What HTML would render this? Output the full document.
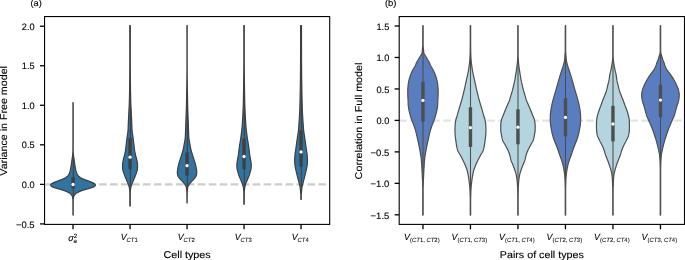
<!DOCTYPE html>
<html><head><meta charset="utf-8"><title>Violin plots</title>
<style>
html,body{margin:0;padding:0;background:#fff;}
body{width:685px;height:260px;overflow:hidden;font-family:"Liberation Sans",sans-serif;}
svg text{fill:#000;stroke:#000;stroke-width:0.12px;}
svg{will-change:transform;text-rendering:geometricPrecision;}
</style></head><body>
<svg width="685" height="260" viewBox="0 0 685 260" style="display:block">
<rect width="685" height="260" fill="#fff"/>
<line x1="44.55" y1="184.45" x2="329.7" y2="184.45" stroke="#cdcdcd" stroke-width="2.3" stroke-dasharray="7.7 3.265" stroke-dashoffset="0.3"/>
<path d="M73.17 102.60 L73.17 110.60 L73.17 118.60 L73.17 126.60 L73.17 134.60 L73.17 142.60 L73.18 150.60 L73.21 151.60 L73.27 152.60 L73.34 153.60 L73.42 154.60 L73.51 155.60 L73.63 156.60 L73.78 157.60 L73.94 158.60 L74.09 159.60 L74.23 160.60 L74.37 161.60 L74.50 162.60 L74.64 163.60 L74.79 164.60 L74.95 165.60 L75.11 166.60 L75.28 167.60 L75.47 168.60 L75.67 169.60 L75.88 170.60 L76.13 171.60 L76.46 172.60 L76.88 173.60 L77.41 174.60 L78.06 175.60 L78.92 176.60 L80.22 177.60 L82.16 178.60 L84.54 179.60 L87.13 180.60 L89.84 181.60 L92.40 182.60 L94.37 183.60 L95.38 184.60 L95.36 185.60 L94.25 186.60 L91.80 187.60 L88.50 188.60 L84.83 189.60 L81.70 190.60 L79.20 191.60 L77.26 192.60 L75.89 193.60 L74.87 194.60 L74.16 195.60 L73.68 196.60 L73.41 197.60 L73.28 198.60 L73.21 199.60 L73.19 202.60 L73.17 210.60 L73.17 215.10 L72.93 215.10 L72.93 210.60 L72.91 202.60 L72.89 199.60 L72.82 198.60 L72.69 197.60 L72.42 196.60 L71.94 195.60 L71.23 194.60 L70.21 193.60 L68.84 192.60 L66.90 191.60 L64.40 190.60 L61.27 189.60 L57.60 188.60 L54.30 187.60 L51.85 186.60 L50.74 185.60 L50.72 184.60 L51.73 183.60 L53.70 182.60 L56.26 181.60 L58.97 180.60 L61.56 179.60 L63.94 178.60 L65.88 177.60 L67.18 176.60 L68.04 175.60 L68.69 174.60 L69.22 173.60 L69.64 172.60 L69.97 171.60 L70.22 170.60 L70.43 169.60 L70.63 168.60 L70.82 167.60 L70.99 166.60 L71.15 165.60 L71.31 164.60 L71.46 163.60 L71.60 162.60 L71.73 161.60 L71.87 160.60 L72.01 159.60 L72.16 158.60 L72.32 157.60 L72.47 156.60 L72.59 155.60 L72.68 154.60 L72.76 153.60 L72.83 152.60 L72.89 151.60 L72.92 150.60 L72.93 142.60 L72.93 134.60 L72.93 126.60 L72.93 118.60 L72.93 110.60 L72.93 102.60Z" fill="#3274a1" stroke="#3f3f3f" stroke-width="1.2" stroke-linejoin="round"/>
<line x1="73.35" y1="156" x2="73.35" y2="198.5" stroke="#3f3f3f" stroke-width="1.07"/>
<line x1="73.05" y1="177.1" x2="73.05" y2="188.5" stroke="#3f3f3f" stroke-width="3.4"/>
<circle cx="73.05" cy="184.5" r="1.65" fill="#fff"/>
<path d="M130.35 25.60 L130.33 31.60 L130.31 39.60 L130.30 47.60 L130.30 55.60 L130.30 63.60 L130.33 69.60 L130.35 73.60 L130.37 76.60 L130.40 79.60 L130.42 82.60 L130.45 85.60 L130.48 87.60 L130.50 89.60 L130.53 91.60 L130.57 93.60 L130.61 95.60 L130.63 96.60 L130.65 97.60 L130.67 98.60 L130.69 99.60 L130.72 100.60 L130.75 101.60 L130.78 102.60 L130.83 103.60 L130.87 104.60 L130.92 105.60 L130.97 106.60 L131.03 107.60 L131.08 108.60 L131.13 109.60 L131.18 110.60 L131.23 111.60 L131.28 112.60 L131.32 113.60 L131.37 114.60 L131.42 115.60 L131.47 116.60 L131.51 117.60 L131.56 118.60 L131.61 119.60 L131.65 120.60 L131.70 121.60 L131.75 122.60 L131.79 123.60 L131.83 124.60 L131.87 125.60 L131.91 126.60 L131.94 127.60 L131.98 128.60 L132.03 129.60 L132.09 130.60 L132.19 131.60 L132.32 132.60 L132.46 133.60 L132.62 134.60 L132.78 135.60 L132.93 136.60 L133.06 137.60 L133.19 138.60 L133.31 139.60 L133.43 140.60 L133.55 141.60 L133.67 142.60 L133.78 143.60 L133.90 144.60 L134.02 145.60 L134.13 146.60 L134.24 147.60 L134.36 148.60 L134.49 149.60 L134.65 150.60 L134.82 151.60 L135.02 152.60 L135.24 153.60 L135.46 154.60 L135.70 155.60 L135.97 156.60 L136.26 157.60 L136.53 158.60 L136.77 159.60 L136.96 160.60 L137.15 161.60 L137.33 162.60 L137.47 163.60 L137.54 164.60 L137.55 167.60 L137.51 168.60 L137.33 169.60 L137.12 170.60 L136.84 171.60 L136.52 172.60 L136.16 173.60 L135.79 174.60 L135.43 175.60 L135.05 176.60 L134.64 177.60 L134.23 178.60 L133.81 179.60 L133.40 180.60 L132.96 181.60 L132.51 182.60 L132.08 183.60 L131.69 184.60 L131.35 185.60 L131.03 186.60 L130.78 187.60 L130.61 188.60 L130.49 189.60 L130.39 190.60 L130.32 191.60 L130.29 192.60 L130.26 194.60 L130.25 202.60 L130.25 206.00 L129.85 206.00 L129.85 202.60 L129.84 194.60 L129.81 192.60 L129.78 191.60 L129.71 190.60 L129.61 189.60 L129.49 188.60 L129.32 187.60 L129.07 186.60 L128.75 185.60 L128.41 184.60 L128.02 183.60 L127.59 182.60 L127.14 181.60 L126.70 180.60 L126.29 179.60 L125.87 178.60 L125.46 177.60 L125.05 176.60 L124.67 175.60 L124.31 174.60 L123.94 173.60 L123.58 172.60 L123.26 171.60 L122.98 170.60 L122.77 169.60 L122.59 168.60 L122.55 167.60 L122.56 164.60 L122.63 163.60 L122.77 162.60 L122.95 161.60 L123.14 160.60 L123.33 159.60 L123.57 158.60 L123.84 157.60 L124.13 156.60 L124.40 155.60 L124.64 154.60 L124.86 153.60 L125.08 152.60 L125.28 151.60 L125.45 150.60 L125.61 149.60 L125.74 148.60 L125.86 147.60 L125.97 146.60 L126.08 145.60 L126.20 144.60 L126.32 143.60 L126.43 142.60 L126.55 141.60 L126.67 140.60 L126.79 139.60 L126.91 138.60 L127.04 137.60 L127.17 136.60 L127.32 135.60 L127.48 134.60 L127.64 133.60 L127.78 132.60 L127.91 131.60 L128.01 130.60 L128.07 129.60 L128.12 128.60 L128.16 127.60 L128.19 126.60 L128.23 125.60 L128.27 124.60 L128.31 123.60 L128.35 122.60 L128.40 121.60 L128.45 120.60 L128.49 119.60 L128.54 118.60 L128.59 117.60 L128.63 116.60 L128.68 115.60 L128.73 114.60 L128.78 113.60 L128.82 112.60 L128.87 111.60 L128.92 110.60 L128.97 109.60 L129.02 108.60 L129.07 107.60 L129.13 106.60 L129.18 105.60 L129.23 104.60 L129.27 103.60 L129.32 102.60 L129.35 101.60 L129.38 100.60 L129.41 99.60 L129.43 98.60 L129.45 97.60 L129.47 96.60 L129.49 95.60 L129.53 93.60 L129.57 91.60 L129.60 89.60 L129.62 87.60 L129.65 85.60 L129.68 82.60 L129.70 79.60 L129.73 76.60 L129.75 73.60 L129.77 69.60 L129.80 63.60 L129.80 55.60 L129.80 47.60 L129.79 39.60 L129.77 31.60 L129.75 25.60Z" fill="#3274a1" stroke="#3f3f3f" stroke-width="1.2" stroke-linejoin="round"/>
<line x1="130.35" y1="84" x2="130.35" y2="187.5" stroke="#3f3f3f" stroke-width="1.07"/>
<line x1="130.05" y1="138" x2="130.05" y2="169.3" stroke="#3f3f3f" stroke-width="3.4"/>
<circle cx="130.05" cy="157.2" r="1.65" fill="#fff"/>
<path d="M187.20 25.60 L187.18 32.60 L187.16 40.60 L187.15 48.60 L187.15 56.60 L187.15 64.60 L187.18 72.60 L187.20 75.60 L187.23 78.60 L187.25 80.60 L187.28 82.60 L187.30 84.60 L187.33 86.60 L187.36 88.60 L187.39 90.60 L187.42 92.60 L187.46 94.60 L187.49 96.60 L187.53 98.60 L187.56 100.60 L187.58 101.60 L187.60 102.60 L187.62 103.60 L187.65 104.60 L187.68 105.60 L187.70 106.60 L187.73 107.60 L187.76 108.60 L187.79 109.60 L187.83 110.60 L187.86 111.60 L187.90 112.60 L187.93 113.60 L187.97 114.60 L188.00 115.60 L188.04 116.60 L188.08 117.60 L188.11 118.60 L188.15 119.60 L188.19 120.60 L188.23 121.60 L188.26 122.60 L188.30 123.60 L188.34 124.60 L188.37 125.60 L188.40 126.60 L188.44 127.60 L188.47 128.60 L188.50 129.60 L188.53 130.60 L188.56 131.60 L188.60 132.60 L188.64 133.60 L188.69 134.60 L188.74 135.60 L188.79 136.60 L188.86 137.60 L188.95 138.60 L189.08 139.60 L189.23 140.60 L189.41 141.60 L189.60 142.60 L189.79 143.60 L189.98 144.60 L190.16 145.60 L190.34 146.60 L190.53 147.60 L190.74 148.60 L190.96 149.60 L191.20 150.60 L191.48 151.60 L191.79 152.60 L192.11 153.60 L192.42 154.60 L192.74 155.60 L193.06 156.60 L193.39 157.60 L193.71 158.60 L194.03 159.60 L194.33 160.60 L194.65 161.60 L194.95 162.60 L195.24 163.60 L195.50 164.60 L195.74 165.60 L195.97 166.60 L196.18 167.60 L196.36 168.60 L196.51 169.60 L196.61 170.60 L196.69 171.60 L196.74 172.60 L196.71 173.60 L196.54 174.60 L196.25 175.60 L195.72 176.60 L195.08 177.60 L194.30 178.60 L193.41 179.60 L192.51 180.60 L191.56 181.60 L190.66 182.60 L189.78 183.60 L189.00 184.60 L188.43 185.60 L187.96 186.60 L187.68 187.60 L187.53 188.60 L187.43 189.60 L187.35 190.60 L187.29 191.60 L187.24 192.60 L187.21 194.60 L187.18 196.60 L187.16 199.60 L187.15 203.00 L186.95 203.00 L186.94 199.60 L186.92 196.60 L186.89 194.60 L186.86 192.60 L186.81 191.60 L186.75 190.60 L186.67 189.60 L186.57 188.60 L186.42 187.60 L186.14 186.60 L185.67 185.60 L185.10 184.60 L184.32 183.60 L183.44 182.60 L182.54 181.60 L181.59 180.60 L180.69 179.60 L179.80 178.60 L179.02 177.60 L178.38 176.60 L177.85 175.60 L177.56 174.60 L177.39 173.60 L177.36 172.60 L177.41 171.60 L177.49 170.60 L177.59 169.60 L177.74 168.60 L177.92 167.60 L178.13 166.60 L178.36 165.60 L178.60 164.60 L178.86 163.60 L179.15 162.60 L179.45 161.60 L179.77 160.60 L180.07 159.60 L180.39 158.60 L180.71 157.60 L181.04 156.60 L181.36 155.60 L181.68 154.60 L181.99 153.60 L182.31 152.60 L182.62 151.60 L182.90 150.60 L183.14 149.60 L183.36 148.60 L183.57 147.60 L183.76 146.60 L183.94 145.60 L184.12 144.60 L184.31 143.60 L184.50 142.60 L184.69 141.60 L184.87 140.60 L185.02 139.60 L185.15 138.60 L185.24 137.60 L185.31 136.60 L185.36 135.60 L185.41 134.60 L185.46 133.60 L185.50 132.60 L185.54 131.60 L185.57 130.60 L185.60 129.60 L185.63 128.60 L185.66 127.60 L185.70 126.60 L185.73 125.60 L185.76 124.60 L185.80 123.60 L185.84 122.60 L185.87 121.60 L185.91 120.60 L185.95 119.60 L185.99 118.60 L186.02 117.60 L186.06 116.60 L186.10 115.60 L186.13 114.60 L186.17 113.60 L186.20 112.60 L186.24 111.60 L186.27 110.60 L186.31 109.60 L186.34 108.60 L186.37 107.60 L186.40 106.60 L186.42 105.60 L186.45 104.60 L186.48 103.60 L186.50 102.60 L186.52 101.60 L186.54 100.60 L186.57 98.60 L186.61 96.60 L186.64 94.60 L186.68 92.60 L186.71 90.60 L186.74 88.60 L186.77 86.60 L186.80 84.60 L186.82 82.60 L186.85 80.60 L186.87 78.60 L186.90 75.60 L186.92 72.60 L186.95 64.60 L186.95 56.60 L186.95 48.60 L186.94 40.60 L186.92 32.60 L186.90 25.60Z" fill="#3274a1" stroke="#3f3f3f" stroke-width="1.2" stroke-linejoin="round"/>
<line x1="187.35" y1="93" x2="187.35" y2="187.5" stroke="#3f3f3f" stroke-width="1.07"/>
<line x1="187.05" y1="152.4" x2="187.05" y2="175.5" stroke="#3f3f3f" stroke-width="3.4"/>
<circle cx="187.05" cy="165.7" r="1.65" fill="#fff"/>
<path d="M244.30 25.60 L244.28 31.60 L244.26 39.60 L244.25 47.60 L244.25 55.60 L244.26 63.60 L244.28 67.60 L244.31 70.60 L244.33 73.60 L244.35 75.60 L244.38 77.60 L244.40 79.60 L244.42 81.60 L244.44 83.60 L244.46 85.60 L244.49 87.60 L244.51 89.60 L244.54 91.60 L244.58 93.60 L244.61 95.60 L244.65 97.60 L244.67 98.60 L244.69 99.60 L244.71 100.60 L244.74 101.60 L244.76 102.60 L244.79 103.60 L244.82 104.60 L244.86 105.60 L244.89 106.60 L244.93 107.60 L244.96 108.60 L245.00 109.60 L245.05 110.60 L245.09 111.60 L245.14 112.60 L245.18 113.60 L245.23 114.60 L245.28 115.60 L245.34 116.60 L245.39 117.60 L245.45 118.60 L245.51 119.60 L245.57 120.60 L245.63 121.60 L245.69 122.60 L245.76 123.60 L245.82 124.60 L245.89 125.60 L245.97 126.60 L246.06 127.60 L246.16 128.60 L246.26 129.60 L246.37 130.60 L246.49 131.60 L246.61 132.60 L246.74 133.60 L246.87 134.60 L247.00 135.60 L247.13 136.60 L247.26 137.60 L247.41 138.60 L247.56 139.60 L247.73 140.60 L247.90 141.60 L248.06 142.60 L248.23 143.60 L248.39 144.60 L248.54 145.60 L248.68 146.60 L248.83 147.60 L248.96 148.60 L249.10 149.60 L249.22 150.60 L249.34 151.60 L249.45 152.60 L249.57 153.60 L249.69 154.60 L249.84 155.60 L250.02 156.60 L250.22 157.60 L250.41 158.60 L250.59 159.60 L250.74 160.60 L250.90 161.60 L251.05 162.60 L251.18 163.60 L251.24 164.60 L251.25 165.60 L251.22 166.60 L251.17 167.60 L251.07 168.60 L250.85 169.60 L250.61 170.60 L250.36 171.60 L250.09 172.60 L249.79 173.60 L249.48 174.60 L249.14 175.60 L248.76 176.60 L248.35 177.60 L247.93 178.60 L247.51 179.60 L247.10 180.60 L246.67 181.60 L246.24 182.60 L245.83 183.60 L245.47 184.60 L245.18 185.60 L244.92 186.60 L244.71 187.60 L244.58 188.60 L244.48 189.60 L244.40 190.60 L244.32 191.60 L244.29 192.60 L244.26 194.60 L244.25 202.60 L244.25 204.25 L243.85 204.25 L243.85 202.60 L243.84 194.60 L243.81 192.60 L243.78 191.60 L243.70 190.60 L243.62 189.60 L243.52 188.60 L243.39 187.60 L243.18 186.60 L242.92 185.60 L242.63 184.60 L242.27 183.60 L241.86 182.60 L241.43 181.60 L241.00 180.60 L240.59 179.60 L240.17 178.60 L239.75 177.60 L239.34 176.60 L238.96 175.60 L238.62 174.60 L238.31 173.60 L238.01 172.60 L237.74 171.60 L237.49 170.60 L237.25 169.60 L237.03 168.60 L236.93 167.60 L236.88 166.60 L236.85 165.60 L236.86 164.60 L236.92 163.60 L237.05 162.60 L237.20 161.60 L237.36 160.60 L237.51 159.60 L237.69 158.60 L237.88 157.60 L238.08 156.60 L238.26 155.60 L238.41 154.60 L238.53 153.60 L238.65 152.60 L238.76 151.60 L238.88 150.60 L239.00 149.60 L239.14 148.60 L239.27 147.60 L239.42 146.60 L239.56 145.60 L239.71 144.60 L239.87 143.60 L240.04 142.60 L240.20 141.60 L240.37 140.60 L240.54 139.60 L240.69 138.60 L240.84 137.60 L240.97 136.60 L241.10 135.60 L241.23 134.60 L241.36 133.60 L241.49 132.60 L241.61 131.60 L241.73 130.60 L241.84 129.60 L241.94 128.60 L242.04 127.60 L242.13 126.60 L242.21 125.60 L242.28 124.60 L242.34 123.60 L242.41 122.60 L242.47 121.60 L242.53 120.60 L242.59 119.60 L242.65 118.60 L242.71 117.60 L242.76 116.60 L242.82 115.60 L242.87 114.60 L242.92 113.60 L242.96 112.60 L243.01 111.60 L243.05 110.60 L243.10 109.60 L243.14 108.60 L243.17 107.60 L243.21 106.60 L243.24 105.60 L243.28 104.60 L243.31 103.60 L243.34 102.60 L243.36 101.60 L243.39 100.60 L243.41 99.60 L243.43 98.60 L243.45 97.60 L243.49 95.60 L243.52 93.60 L243.56 91.60 L243.59 89.60 L243.61 87.60 L243.64 85.60 L243.66 83.60 L243.68 81.60 L243.70 79.60 L243.72 77.60 L243.75 75.60 L243.77 73.60 L243.79 70.60 L243.82 67.60 L243.84 63.60 L243.85 55.60 L243.85 47.60 L243.84 39.60 L243.82 31.60 L243.80 25.60Z" fill="#3274a1" stroke="#3f3f3f" stroke-width="1.2" stroke-linejoin="round"/>
<line x1="244.35" y1="84" x2="244.35" y2="187.5" stroke="#3f3f3f" stroke-width="1.07"/>
<line x1="244.05" y1="138.5" x2="244.05" y2="169.3" stroke="#3f3f3f" stroke-width="3.4"/>
<circle cx="244.05" cy="156.5" r="1.65" fill="#fff"/>
<path d="M301.50 25.60 L301.50 33.60 L301.50 41.60 L301.50 49.60 L301.52 57.60 L301.54 61.60 L301.56 64.60 L301.59 67.60 L301.61 70.60 L301.64 73.60 L301.66 76.60 L301.69 78.60 L301.71 80.60 L301.73 82.60 L301.76 84.60 L301.79 86.60 L301.83 88.60 L301.86 90.60 L301.90 92.60 L301.94 94.60 L301.96 95.60 L301.98 96.60 L302.00 97.60 L302.02 98.60 L302.04 99.60 L302.06 100.60 L302.09 101.60 L302.11 102.60 L302.14 103.60 L302.17 104.60 L302.20 105.60 L302.23 106.60 L302.26 107.60 L302.30 108.60 L302.33 109.60 L302.37 110.60 L302.41 111.60 L302.45 112.60 L302.50 113.60 L302.55 114.60 L302.61 115.60 L302.67 116.60 L302.73 117.60 L302.80 118.60 L302.87 119.60 L302.94 120.60 L303.01 121.60 L303.08 122.60 L303.15 123.60 L303.22 124.60 L303.29 125.60 L303.35 126.60 L303.42 127.60 L303.48 128.60 L303.56 129.60 L303.66 130.60 L303.78 131.60 L303.92 132.60 L304.08 133.60 L304.24 134.60 L304.41 135.60 L304.57 136.60 L304.71 137.60 L304.86 138.60 L305.00 139.60 L305.14 140.60 L305.28 141.60 L305.42 142.60 L305.55 143.60 L305.69 144.60 L305.83 145.60 L305.97 146.60 L306.11 147.60 L306.25 148.60 L306.39 149.60 L306.54 150.60 L306.69 151.60 L306.85 152.60 L306.99 153.60 L307.11 154.60 L307.20 155.60 L307.28 156.60 L307.36 157.60 L307.42 158.60 L307.45 159.60 L307.44 160.60 L307.41 161.60 L307.35 162.60 L307.27 163.60 L307.19 164.60 L307.09 165.60 L306.94 166.60 L306.75 167.60 L306.55 168.60 L306.33 169.60 L306.12 170.60 L305.89 171.60 L305.65 172.60 L305.40 173.60 L305.15 174.60 L304.90 175.60 L304.66 176.60 L304.41 177.60 L304.16 178.60 L303.90 179.60 L303.64 180.60 L303.36 181.60 L303.07 182.60 L302.79 183.60 L302.54 184.60 L302.32 185.60 L302.12 186.60 L301.95 187.60 L301.83 188.60 L301.74 189.60 L301.64 190.60 L301.53 191.60 L301.43 192.60 L301.36 193.60 L301.29 194.60 L301.25 195.60 L301.25 199.50 L300.85 199.50 L300.85 195.60 L300.81 194.60 L300.74 193.60 L300.67 192.60 L300.57 191.60 L300.46 190.60 L300.36 189.60 L300.27 188.60 L300.15 187.60 L299.98 186.60 L299.78 185.60 L299.56 184.60 L299.31 183.60 L299.03 182.60 L298.74 181.60 L298.46 180.60 L298.20 179.60 L297.94 178.60 L297.69 177.60 L297.44 176.60 L297.20 175.60 L296.95 174.60 L296.70 173.60 L296.45 172.60 L296.21 171.60 L295.98 170.60 L295.77 169.60 L295.55 168.60 L295.35 167.60 L295.16 166.60 L295.01 165.60 L294.91 164.60 L294.83 163.60 L294.75 162.60 L294.69 161.60 L294.66 160.60 L294.65 159.60 L294.68 158.60 L294.74 157.60 L294.82 156.60 L294.90 155.60 L294.99 154.60 L295.11 153.60 L295.25 152.60 L295.41 151.60 L295.56 150.60 L295.71 149.60 L295.85 148.60 L295.99 147.60 L296.13 146.60 L296.27 145.60 L296.41 144.60 L296.55 143.60 L296.68 142.60 L296.82 141.60 L296.96 140.60 L297.10 139.60 L297.24 138.60 L297.39 137.60 L297.53 136.60 L297.69 135.60 L297.86 134.60 L298.02 133.60 L298.18 132.60 L298.32 131.60 L298.44 130.60 L298.54 129.60 L298.62 128.60 L298.68 127.60 L298.75 126.60 L298.81 125.60 L298.88 124.60 L298.95 123.60 L299.02 122.60 L299.09 121.60 L299.16 120.60 L299.23 119.60 L299.30 118.60 L299.37 117.60 L299.43 116.60 L299.49 115.60 L299.55 114.60 L299.60 113.60 L299.65 112.60 L299.69 111.60 L299.73 110.60 L299.77 109.60 L299.80 108.60 L299.84 107.60 L299.87 106.60 L299.90 105.60 L299.93 104.60 L299.96 103.60 L299.99 102.60 L300.01 101.60 L300.04 100.60 L300.06 99.60 L300.08 98.60 L300.10 97.60 L300.12 96.60 L300.14 95.60 L300.16 94.60 L300.20 92.60 L300.24 90.60 L300.27 88.60 L300.31 86.60 L300.34 84.60 L300.37 82.60 L300.39 80.60 L300.41 78.60 L300.44 76.60 L300.46 73.60 L300.49 70.60 L300.51 67.60 L300.54 64.60 L300.56 61.60 L300.58 57.60 L300.60 49.60 L300.60 41.60 L300.60 33.60 L300.60 25.60Z" fill="#3274a1" stroke="#3f3f3f" stroke-width="1.2" stroke-linejoin="round"/>
<line x1="301.35" y1="62" x2="301.35" y2="186.5" stroke="#3f3f3f" stroke-width="1.07"/>
<line x1="301.05" y1="130.3" x2="301.05" y2="166.6" stroke="#3f3f3f" stroke-width="3.4"/>
<circle cx="301.05" cy="151.9" r="1.65" fill="#fff"/>
<rect x="44.55" y="16.55" width="285.15" height="207.85" fill="none" stroke="#000" stroke-width="1.1"/>
<line x1="39.95" y1="26.20" x2="44.55" y2="26.20" stroke="#000" stroke-width="1.3"/>
<line x1="39.95" y1="65.74" x2="44.55" y2="65.74" stroke="#000" stroke-width="1.3"/>
<line x1="39.95" y1="105.28" x2="44.55" y2="105.28" stroke="#000" stroke-width="1.3"/>
<line x1="39.95" y1="144.82" x2="44.55" y2="144.82" stroke="#000" stroke-width="1.3"/>
<line x1="39.95" y1="184.36" x2="44.55" y2="184.36" stroke="#000" stroke-width="1.3"/>
<line x1="39.95" y1="223.90" x2="44.55" y2="223.90" stroke="#000" stroke-width="1.3"/>
<line x1="73.05" y1="224.4" x2="73.05" y2="229.30" stroke="#000" stroke-width="1.3"/>
<line x1="130.05" y1="224.4" x2="130.05" y2="229.30" stroke="#000" stroke-width="1.3"/>
<line x1="187.05" y1="224.4" x2="187.05" y2="229.30" stroke="#000" stroke-width="1.3"/>
<line x1="244.05" y1="224.4" x2="244.05" y2="229.30" stroke="#000" stroke-width="1.3"/>
<line x1="301.05" y1="224.4" x2="301.05" y2="229.30" stroke="#000" stroke-width="1.3"/>
<text x="34.65" y="29.80" text-anchor="end" font-size="9.2" textLength="12.8" lengthAdjust="spacingAndGlyphs" font-family="Liberation Sans, sans-serif">2.0</text>
<text x="34.65" y="69.34" text-anchor="end" font-size="9.2" textLength="12.8" lengthAdjust="spacingAndGlyphs" font-family="Liberation Sans, sans-serif">1.5</text>
<text x="34.65" y="108.88" text-anchor="end" font-size="9.2" textLength="12.8" lengthAdjust="spacingAndGlyphs" font-family="Liberation Sans, sans-serif">1.0</text>
<text x="34.65" y="148.42" text-anchor="end" font-size="9.2" textLength="12.8" lengthAdjust="spacingAndGlyphs" font-family="Liberation Sans, sans-serif">0.5</text>
<text x="34.65" y="187.96" text-anchor="end" font-size="9.2" textLength="12.8" lengthAdjust="spacingAndGlyphs" font-family="Liberation Sans, sans-serif">0.0</text>
<text x="34.65" y="227.50" text-anchor="end" font-size="9.2" textLength="18.7" lengthAdjust="spacingAndGlyphs" font-family="Liberation Sans, sans-serif">−0.5</text>
<line x1="399.2" y1="120.6" x2="684.5" y2="120.6" stroke="#e4e4e4" stroke-width="2.3" stroke-dasharray="7.7 3.3" stroke-dashoffset="0"/>
<path d="M423.15 25.70 L423.15 33.70 L423.15 41.70 L423.16 45.70 L423.23 46.70 L423.32 47.70 L423.43 48.70 L423.52 49.70 L423.60 50.70 L423.66 51.70 L423.79 52.70 L424.20 53.70 L424.78 54.70 L425.35 55.70 L425.97 56.70 L426.56 57.70 L427.12 58.70 L427.68 59.70 L428.28 60.70 L428.91 61.70 L429.44 62.70 L429.84 63.70 L430.22 64.70 L430.69 65.70 L431.25 66.70 L431.85 67.70 L432.44 68.70 L433.00 69.70 L433.49 70.70 L433.97 71.70 L434.42 72.70 L434.85 73.70 L435.24 74.70 L435.60 75.70 L435.93 76.70 L436.24 77.70 L436.53 78.70 L436.78 79.70 L437.01 80.70 L437.22 81.70 L437.41 82.70 L437.58 83.70 L437.72 84.70 L437.83 85.70 L437.94 86.70 L438.04 87.70 L438.11 88.70 L438.15 89.70 L438.12 93.70 L438.10 94.70 L438.08 95.70 L438.04 96.70 L437.98 97.70 L437.92 98.70 L437.86 99.70 L437.82 100.70 L437.79 101.70 L437.75 102.70 L437.72 103.70 L437.67 104.70 L437.60 105.70 L437.48 106.70 L437.34 107.70 L437.18 108.70 L437.00 109.70 L436.82 110.70 L436.60 111.70 L436.36 112.70 L436.10 113.70 L435.83 114.70 L435.55 115.70 L435.25 116.70 L434.94 117.70 L434.60 118.70 L434.26 119.70 L433.89 120.70 L433.49 121.70 L433.07 122.70 L432.65 123.70 L432.26 124.70 L431.90 125.70 L431.57 126.70 L431.24 127.70 L430.93 128.70 L430.64 129.70 L430.35 130.70 L430.08 131.70 L429.82 132.70 L429.57 133.70 L429.32 134.70 L429.09 135.70 L428.86 136.70 L428.65 137.70 L428.43 138.70 L428.22 139.70 L427.99 140.70 L427.77 141.70 L427.55 142.70 L427.32 143.70 L427.11 144.70 L426.91 145.70 L426.71 146.70 L426.53 147.70 L426.34 148.70 L426.16 149.70 L425.97 150.70 L425.78 151.70 L425.59 152.70 L425.41 153.70 L425.25 154.70 L425.09 155.70 L424.95 156.70 L424.81 157.70 L424.69 158.70 L424.58 159.70 L424.49 160.70 L424.41 161.70 L424.35 162.70 L424.28 163.70 L424.22 164.70 L424.16 165.70 L424.09 166.70 L424.03 167.70 L423.97 168.70 L423.92 169.70 L423.86 170.70 L423.81 171.70 L423.76 172.70 L423.71 173.70 L423.66 174.70 L423.61 175.70 L423.56 176.70 L423.51 177.70 L423.46 178.70 L423.41 179.70 L423.37 180.70 L423.34 181.70 L423.31 182.70 L423.28 183.70 L423.26 184.70 L423.23 185.70 L423.21 186.70 L423.18 187.70 L423.15 189.70 L423.15 197.70 L423.15 205.70 L423.15 213.70 L423.15 215.10 L422.75 215.10 L422.75 213.70 L422.75 205.70 L422.75 197.70 L422.75 189.70 L422.72 187.70 L422.69 186.70 L422.67 185.70 L422.64 184.70 L422.62 183.70 L422.59 182.70 L422.56 181.70 L422.53 180.70 L422.49 179.70 L422.44 178.70 L422.39 177.70 L422.34 176.70 L422.29 175.70 L422.24 174.70 L422.19 173.70 L422.14 172.70 L422.09 171.70 L422.04 170.70 L421.98 169.70 L421.93 168.70 L421.87 167.70 L421.81 166.70 L421.74 165.70 L421.68 164.70 L421.62 163.70 L421.55 162.70 L421.49 161.70 L421.41 160.70 L421.32 159.70 L421.21 158.70 L421.09 157.70 L420.95 156.70 L420.81 155.70 L420.65 154.70 L420.49 153.70 L420.31 152.70 L420.12 151.70 L419.93 150.70 L419.74 149.70 L419.56 148.70 L419.37 147.70 L419.19 146.70 L418.99 145.70 L418.79 144.70 L418.58 143.70 L418.35 142.70 L418.13 141.70 L417.91 140.70 L417.68 139.70 L417.47 138.70 L417.25 137.70 L417.04 136.70 L416.81 135.70 L416.58 134.70 L416.33 133.70 L416.08 132.70 L415.82 131.70 L415.55 130.70 L415.26 129.70 L414.97 128.70 L414.66 127.70 L414.33 126.70 L414.00 125.70 L413.64 124.70 L413.25 123.70 L412.83 122.70 L412.41 121.70 L412.01 120.70 L411.64 119.70 L411.30 118.70 L410.96 117.70 L410.65 116.70 L410.35 115.70 L410.07 114.70 L409.80 113.70 L409.54 112.70 L409.30 111.70 L409.08 110.70 L408.90 109.70 L408.72 108.70 L408.56 107.70 L408.42 106.70 L408.30 105.70 L408.23 104.70 L408.18 103.70 L408.15 102.70 L408.11 101.70 L408.08 100.70 L408.04 99.70 L407.98 98.70 L407.92 97.70 L407.86 96.70 L407.82 95.70 L407.80 94.70 L407.78 93.70 L407.75 89.70 L407.79 88.70 L407.86 87.70 L407.96 86.70 L408.07 85.70 L408.18 84.70 L408.32 83.70 L408.49 82.70 L408.68 81.70 L408.89 80.70 L409.12 79.70 L409.37 78.70 L409.66 77.70 L409.97 76.70 L410.30 75.70 L410.66 74.70 L411.05 73.70 L411.48 72.70 L411.93 71.70 L412.41 70.70 L412.90 69.70 L413.46 68.70 L414.05 67.70 L414.65 66.70 L415.21 65.70 L415.68 64.70 L416.06 63.70 L416.46 62.70 L416.99 61.70 L417.62 60.70 L418.22 59.70 L418.78 58.70 L419.34 57.70 L419.93 56.70 L420.55 55.70 L421.12 54.70 L421.70 53.70 L422.11 52.70 L422.24 51.70 L422.30 50.70 L422.38 49.70 L422.47 48.70 L422.58 47.70 L422.67 46.70 L422.74 45.70 L422.75 41.70 L422.75 33.70 L422.75 25.70Z" fill="#597dbf" stroke="#4e4e4e" stroke-width="1.2" stroke-linejoin="round"/>
<line x1="423.00" y1="48" x2="423.00" y2="181" stroke="#4e4e4e" stroke-width="1.07"/>
<line x1="422.95" y1="81.9" x2="422.95" y2="121.5" stroke="#4e4e4e" stroke-width="3.4"/>
<circle cx="422.95" cy="100.4" r="1.65" fill="#fff"/>
<path d="M470.65 25.70 L470.65 33.70 L470.65 41.70 L470.67 45.70 L470.70 48.70 L470.72 50.70 L470.75 52.70 L470.78 53.70 L470.81 54.70 L470.86 55.70 L470.91 56.70 L470.96 57.70 L471.02 58.70 L471.10 59.70 L471.18 60.70 L471.27 61.70 L471.37 62.70 L471.48 63.70 L471.61 64.70 L471.74 65.70 L471.87 66.70 L472.00 67.70 L472.15 68.70 L472.30 69.70 L472.47 70.70 L472.66 71.70 L472.86 72.70 L473.07 73.70 L473.29 74.70 L473.50 75.70 L473.72 76.70 L473.94 77.70 L474.16 78.70 L474.38 79.70 L474.60 80.70 L474.82 81.70 L475.04 82.70 L475.26 83.70 L475.48 84.70 L475.70 85.70 L475.92 86.70 L476.14 87.70 L476.36 88.70 L476.58 89.70 L476.81 90.70 L477.05 91.70 L477.29 92.70 L477.53 93.70 L477.78 94.70 L478.03 95.70 L478.28 96.70 L478.53 97.70 L478.80 98.70 L479.07 99.70 L479.35 100.70 L479.64 101.70 L479.95 102.70 L480.25 103.70 L480.56 104.70 L480.86 105.70 L481.16 106.70 L481.47 107.70 L481.77 108.70 L482.06 109.70 L482.35 110.70 L482.63 111.70 L482.91 112.70 L483.18 113.70 L483.46 114.70 L483.76 115.70 L484.09 116.70 L484.43 117.70 L484.74 118.70 L484.99 119.70 L485.18 120.70 L485.36 121.70 L485.51 122.70 L485.64 123.70 L485.73 124.70 L485.79 125.70 L485.85 126.70 L485.90 127.70 L485.93 128.70 L485.94 130.70 L485.92 131.70 L485.88 132.70 L485.83 133.70 L485.77 134.70 L485.70 135.70 L485.59 136.70 L485.47 137.70 L485.33 138.70 L485.19 139.70 L485.06 140.70 L484.93 141.70 L484.80 142.70 L484.66 143.70 L484.50 144.70 L484.33 145.70 L484.15 146.70 L483.95 147.70 L483.71 148.70 L483.44 149.70 L483.09 150.70 L482.60 151.70 L482.02 152.70 L481.40 153.70 L480.81 154.70 L480.28 155.70 L479.75 156.70 L479.22 157.70 L478.70 158.70 L478.20 159.70 L477.71 160.70 L477.23 161.70 L476.76 162.70 L476.31 163.70 L475.88 164.70 L475.46 165.70 L475.04 166.70 L474.64 167.70 L474.26 168.70 L473.94 169.70 L473.66 170.70 L473.42 171.70 L473.20 172.70 L473.00 173.70 L472.81 174.70 L472.62 175.70 L472.45 176.70 L472.29 177.70 L472.14 178.70 L471.99 179.70 L471.86 180.70 L471.72 181.70 L471.60 182.70 L471.48 183.70 L471.38 184.70 L471.28 185.70 L471.19 186.70 L471.11 187.70 L471.03 188.70 L470.97 189.70 L470.91 190.70 L470.87 191.70 L470.83 192.70 L470.79 193.70 L470.76 194.70 L470.73 195.70 L470.70 196.70 L470.68 197.70 L470.65 199.70 L470.65 207.70 L470.65 215.10 L470.25 215.10 L470.25 207.70 L470.25 199.70 L470.22 197.70 L470.20 196.70 L470.17 195.70 L470.14 194.70 L470.11 193.70 L470.07 192.70 L470.03 191.70 L469.99 190.70 L469.93 189.70 L469.87 188.70 L469.79 187.70 L469.71 186.70 L469.62 185.70 L469.52 184.70 L469.42 183.70 L469.30 182.70 L469.18 181.70 L469.04 180.70 L468.91 179.70 L468.76 178.70 L468.61 177.70 L468.45 176.70 L468.28 175.70 L468.09 174.70 L467.90 173.70 L467.70 172.70 L467.48 171.70 L467.24 170.70 L466.96 169.70 L466.64 168.70 L466.26 167.70 L465.86 166.70 L465.44 165.70 L465.02 164.70 L464.59 163.70 L464.14 162.70 L463.67 161.70 L463.19 160.70 L462.70 159.70 L462.20 158.70 L461.68 157.70 L461.15 156.70 L460.62 155.70 L460.09 154.70 L459.50 153.70 L458.88 152.70 L458.30 151.70 L457.81 150.70 L457.46 149.70 L457.19 148.70 L456.95 147.70 L456.75 146.70 L456.57 145.70 L456.40 144.70 L456.24 143.70 L456.10 142.70 L455.97 141.70 L455.84 140.70 L455.71 139.70 L455.57 138.70 L455.43 137.70 L455.31 136.70 L455.20 135.70 L455.13 134.70 L455.07 133.70 L455.02 132.70 L454.98 131.70 L454.96 130.70 L454.97 128.70 L455.00 127.70 L455.05 126.70 L455.11 125.70 L455.17 124.70 L455.26 123.70 L455.39 122.70 L455.54 121.70 L455.72 120.70 L455.91 119.70 L456.16 118.70 L456.47 117.70 L456.81 116.70 L457.14 115.70 L457.44 114.70 L457.72 113.70 L457.99 112.70 L458.27 111.70 L458.55 110.70 L458.84 109.70 L459.13 108.70 L459.43 107.70 L459.74 106.70 L460.04 105.70 L460.34 104.70 L460.65 103.70 L460.95 102.70 L461.26 101.70 L461.55 100.70 L461.83 99.70 L462.10 98.70 L462.37 97.70 L462.62 96.70 L462.87 95.70 L463.12 94.70 L463.37 93.70 L463.61 92.70 L463.85 91.70 L464.09 90.70 L464.32 89.70 L464.54 88.70 L464.76 87.70 L464.98 86.70 L465.20 85.70 L465.42 84.70 L465.64 83.70 L465.86 82.70 L466.08 81.70 L466.30 80.70 L466.52 79.70 L466.74 78.70 L466.96 77.70 L467.18 76.70 L467.40 75.70 L467.61 74.70 L467.83 73.70 L468.04 72.70 L468.24 71.70 L468.43 70.70 L468.60 69.70 L468.75 68.70 L468.90 67.70 L469.03 66.70 L469.16 65.70 L469.29 64.70 L469.42 63.70 L469.53 62.70 L469.63 61.70 L469.72 60.70 L469.80 59.70 L469.88 58.70 L469.94 57.70 L469.99 56.70 L470.04 55.70 L470.09 54.70 L470.12 53.70 L470.15 52.70 L470.18 50.70 L470.20 48.70 L470.23 45.70 L470.25 41.70 L470.25 33.70 L470.25 25.70Z" fill="#b4d4df" stroke="#4e4e4e" stroke-width="1.2" stroke-linejoin="round"/>
<line x1="470.50" y1="57" x2="470.50" y2="191" stroke="#4e4e4e" stroke-width="1.07"/>
<line x1="470.45" y1="107.3" x2="470.45" y2="146.9" stroke="#4e4e4e" stroke-width="3.4"/>
<circle cx="470.45" cy="127.7" r="1.65" fill="#fff"/>
<path d="M518.15 25.70 L518.15 33.70 L518.15 41.70 L518.15 49.70 L518.16 55.70 L518.18 56.70 L518.22 57.70 L518.28 58.70 L518.33 59.70 L518.39 60.70 L518.47 61.70 L518.56 62.70 L518.66 63.70 L518.77 64.70 L518.88 65.70 L519.00 66.70 L519.13 67.70 L519.27 68.70 L519.41 69.70 L519.55 70.70 L519.71 71.70 L519.87 72.70 L520.04 73.70 L520.20 74.70 L520.36 75.70 L520.51 76.70 L520.67 77.70 L520.82 78.70 L521.00 79.70 L521.19 80.70 L521.39 81.70 L521.62 82.70 L521.85 83.70 L522.08 84.70 L522.31 85.70 L522.54 86.70 L522.77 87.70 L523.02 88.70 L523.27 89.70 L523.54 90.70 L523.84 91.70 L524.14 92.70 L524.45 93.70 L524.76 94.70 L525.06 95.70 L525.34 96.70 L525.63 97.70 L525.92 98.70 L526.25 99.70 L526.61 100.70 L527.01 101.70 L527.44 102.70 L527.88 103.70 L528.32 104.70 L528.75 105.70 L529.19 106.70 L529.62 107.70 L530.05 108.70 L530.48 109.70 L530.88 110.70 L531.28 111.70 L531.67 112.70 L532.05 113.70 L532.43 114.70 L532.83 115.70 L533.27 116.70 L533.70 117.70 L534.08 118.70 L534.38 119.70 L534.59 120.70 L534.79 121.70 L534.96 122.70 L535.08 123.70 L535.15 124.70 L535.15 129.70 L535.13 130.70 L535.03 131.70 L534.87 132.70 L534.69 133.70 L534.50 134.70 L534.33 135.70 L534.15 136.70 L533.95 137.70 L533.71 138.70 L533.44 139.70 L533.09 140.70 L532.60 141.70 L532.02 142.70 L531.40 143.70 L530.81 144.70 L530.27 145.70 L529.73 146.70 L529.19 147.70 L528.67 148.70 L528.18 149.70 L527.75 150.70 L527.33 151.70 L526.93 152.70 L526.57 153.70 L526.24 154.70 L525.96 155.70 L525.72 156.70 L525.51 157.70 L525.29 158.70 L525.04 159.70 L524.72 160.70 L524.34 161.70 L523.92 162.70 L523.49 163.70 L523.07 164.70 L522.67 165.70 L522.27 166.70 L521.88 167.70 L521.50 168.70 L521.15 169.70 L520.83 170.70 L520.51 171.70 L520.22 172.70 L519.95 173.70 L519.71 174.70 L519.51 175.70 L519.33 176.70 L519.16 177.70 L519.01 178.70 L518.88 179.70 L518.78 180.70 L518.68 181.70 L518.60 182.70 L518.53 183.70 L518.47 184.70 L518.41 185.70 L518.36 186.70 L518.32 187.70 L518.28 188.70 L518.26 189.70 L518.22 191.70 L518.19 193.70 L518.17 195.70 L518.15 199.70 L518.15 207.70 L518.15 215.10 L517.75 215.10 L517.75 207.70 L517.75 199.70 L517.73 195.70 L517.71 193.70 L517.68 191.70 L517.64 189.70 L517.62 188.70 L517.58 187.70 L517.54 186.70 L517.49 185.70 L517.43 184.70 L517.37 183.70 L517.30 182.70 L517.22 181.70 L517.12 180.70 L517.02 179.70 L516.89 178.70 L516.74 177.70 L516.57 176.70 L516.39 175.70 L516.19 174.70 L515.95 173.70 L515.68 172.70 L515.39 171.70 L515.07 170.70 L514.75 169.70 L514.40 168.70 L514.02 167.70 L513.63 166.70 L513.23 165.70 L512.83 164.70 L512.41 163.70 L511.98 162.70 L511.56 161.70 L511.18 160.70 L510.86 159.70 L510.61 158.70 L510.39 157.70 L510.18 156.70 L509.94 155.70 L509.66 154.70 L509.33 153.70 L508.97 152.70 L508.57 151.70 L508.15 150.70 L507.72 149.70 L507.23 148.70 L506.71 147.70 L506.17 146.70 L505.63 145.70 L505.09 144.70 L504.50 143.70 L503.88 142.70 L503.30 141.70 L502.81 140.70 L502.46 139.70 L502.19 138.70 L501.95 137.70 L501.75 136.70 L501.57 135.70 L501.40 134.70 L501.21 133.70 L501.03 132.70 L500.87 131.70 L500.77 130.70 L500.75 129.70 L500.75 124.70 L500.82 123.70 L500.94 122.70 L501.11 121.70 L501.31 120.70 L501.52 119.70 L501.82 118.70 L502.20 117.70 L502.63 116.70 L503.07 115.70 L503.47 114.70 L503.85 113.70 L504.23 112.70 L504.62 111.70 L505.02 110.70 L505.42 109.70 L505.85 108.70 L506.28 107.70 L506.71 106.70 L507.15 105.70 L507.58 104.70 L508.02 103.70 L508.46 102.70 L508.89 101.70 L509.29 100.70 L509.65 99.70 L509.98 98.70 L510.27 97.70 L510.56 96.70 L510.84 95.70 L511.14 94.70 L511.45 93.70 L511.76 92.70 L512.06 91.70 L512.36 90.70 L512.63 89.70 L512.88 88.70 L513.13 87.70 L513.36 86.70 L513.59 85.70 L513.82 84.70 L514.05 83.70 L514.28 82.70 L514.51 81.70 L514.71 80.70 L514.90 79.70 L515.08 78.70 L515.23 77.70 L515.39 76.70 L515.54 75.70 L515.70 74.70 L515.86 73.70 L516.03 72.70 L516.19 71.70 L516.35 70.70 L516.49 69.70 L516.63 68.70 L516.77 67.70 L516.90 66.70 L517.02 65.70 L517.13 64.70 L517.24 63.70 L517.34 62.70 L517.43 61.70 L517.51 60.70 L517.57 59.70 L517.62 58.70 L517.68 57.70 L517.72 56.70 L517.74 55.70 L517.75 49.70 L517.75 41.70 L517.75 33.70 L517.75 25.70Z" fill="#b4d4df" stroke="#4e4e4e" stroke-width="1.2" stroke-linejoin="round"/>
<line x1="518.00" y1="60" x2="518.00" y2="185" stroke="#4e4e4e" stroke-width="1.07"/>
<line x1="517.95" y1="109.3" x2="517.95" y2="144.3" stroke="#4e4e4e" stroke-width="3.4"/>
<circle cx="517.95" cy="127.2" r="1.65" fill="#fff"/>
<path d="M565.65 25.70 L565.65 33.70 L565.65 41.70 L565.65 49.70 L565.66 50.70 L565.71 51.70 L565.77 52.70 L565.85 53.70 L565.93 54.70 L565.99 55.70 L566.05 56.70 L566.11 57.70 L566.18 58.70 L566.27 59.70 L566.39 60.70 L566.59 61.70 L566.83 62.70 L567.09 63.70 L567.37 64.70 L567.65 65.70 L567.96 66.70 L568.28 67.70 L568.62 68.70 L568.95 69.70 L569.27 70.70 L569.60 71.70 L569.92 72.70 L570.24 73.70 L570.56 74.70 L570.87 75.70 L571.17 76.70 L571.47 77.70 L571.77 78.70 L572.06 79.70 L572.35 80.70 L572.63 81.70 L572.91 82.70 L573.19 83.70 L573.47 84.70 L573.75 85.70 L574.02 86.70 L574.30 87.70 L574.58 88.70 L574.86 89.70 L575.16 90.70 L575.46 91.70 L575.76 92.70 L576.06 93.70 L576.36 94.70 L576.65 95.70 L576.94 96.70 L577.23 97.70 L577.50 98.70 L577.77 99.70 L578.03 100.70 L578.28 101.70 L578.53 102.70 L578.77 103.70 L578.99 104.70 L579.19 105.70 L579.39 106.70 L579.57 107.70 L579.75 108.70 L579.91 109.70 L580.05 110.70 L580.20 111.70 L580.35 112.70 L580.46 113.70 L580.54 114.70 L580.57 115.70 L580.60 116.70 L580.63 117.70 L580.65 119.70 L580.64 120.70 L580.58 121.70 L580.50 122.70 L580.39 123.70 L580.28 124.70 L580.17 125.70 L580.03 126.70 L579.87 127.70 L579.69 128.70 L579.51 129.70 L579.32 130.70 L579.12 131.70 L578.90 132.70 L578.67 133.70 L578.43 134.70 L578.16 135.70 L577.86 136.70 L577.54 137.70 L577.21 138.70 L576.86 139.70 L576.49 140.70 L576.10 141.70 L575.69 142.70 L575.27 143.70 L574.87 144.70 L574.48 145.70 L574.09 146.70 L573.70 147.70 L573.32 148.70 L572.96 149.70 L572.61 150.70 L572.28 151.70 L571.96 152.70 L571.64 153.70 L571.30 154.70 L570.95 155.70 L570.57 156.70 L570.18 157.70 L569.80 158.70 L569.45 159.70 L569.13 160.70 L568.83 161.70 L568.54 162.70 L568.27 163.70 L568.02 164.70 L567.79 165.70 L567.57 166.70 L567.37 167.70 L567.18 168.70 L567.00 169.70 L566.84 170.70 L566.68 171.70 L566.53 172.70 L566.39 173.70 L566.28 174.70 L566.19 175.70 L566.10 176.70 L566.03 177.70 L565.97 178.70 L565.91 179.70 L565.87 180.70 L565.84 181.70 L565.81 182.70 L565.78 183.70 L565.76 184.70 L565.73 185.70 L565.71 186.70 L565.68 187.70 L565.65 189.70 L565.65 197.70 L565.65 205.70 L565.65 213.70 L565.65 215.10 L565.25 215.10 L565.25 213.70 L565.25 205.70 L565.25 197.70 L565.25 189.70 L565.22 187.70 L565.19 186.70 L565.17 185.70 L565.14 184.70 L565.12 183.70 L565.09 182.70 L565.06 181.70 L565.03 180.70 L564.99 179.70 L564.93 178.70 L564.87 177.70 L564.80 176.70 L564.71 175.70 L564.62 174.70 L564.51 173.70 L564.37 172.70 L564.22 171.70 L564.06 170.70 L563.90 169.70 L563.72 168.70 L563.53 167.70 L563.33 166.70 L563.11 165.70 L562.88 164.70 L562.63 163.70 L562.36 162.70 L562.07 161.70 L561.77 160.70 L561.45 159.70 L561.10 158.70 L560.72 157.70 L560.33 156.70 L559.95 155.70 L559.60 154.70 L559.26 153.70 L558.94 152.70 L558.62 151.70 L558.29 150.70 L557.94 149.70 L557.58 148.70 L557.20 147.70 L556.81 146.70 L556.42 145.70 L556.03 144.70 L555.63 143.70 L555.21 142.70 L554.80 141.70 L554.41 140.70 L554.04 139.70 L553.69 138.70 L553.36 137.70 L553.04 136.70 L552.74 135.70 L552.47 134.70 L552.23 133.70 L552.00 132.70 L551.78 131.70 L551.58 130.70 L551.39 129.70 L551.21 128.70 L551.03 127.70 L550.87 126.70 L550.73 125.70 L550.62 124.70 L550.51 123.70 L550.40 122.70 L550.32 121.70 L550.26 120.70 L550.25 119.70 L550.27 117.70 L550.30 116.70 L550.33 115.70 L550.36 114.70 L550.44 113.70 L550.55 112.70 L550.70 111.70 L550.85 110.70 L550.99 109.70 L551.15 108.70 L551.33 107.70 L551.51 106.70 L551.71 105.70 L551.91 104.70 L552.13 103.70 L552.37 102.70 L552.62 101.70 L552.87 100.70 L553.13 99.70 L553.40 98.70 L553.67 97.70 L553.96 96.70 L554.25 95.70 L554.54 94.70 L554.84 93.70 L555.14 92.70 L555.44 91.70 L555.74 90.70 L556.04 89.70 L556.32 88.70 L556.60 87.70 L556.88 86.70 L557.15 85.70 L557.43 84.70 L557.71 83.70 L557.99 82.70 L558.27 81.70 L558.55 80.70 L558.84 79.70 L559.13 78.70 L559.43 77.70 L559.73 76.70 L560.03 75.70 L560.34 74.70 L560.66 73.70 L560.98 72.70 L561.30 71.70 L561.63 70.70 L561.95 69.70 L562.28 68.70 L562.62 67.70 L562.94 66.70 L563.25 65.70 L563.53 64.70 L563.81 63.70 L564.07 62.70 L564.31 61.70 L564.51 60.70 L564.63 59.70 L564.72 58.70 L564.79 57.70 L564.85 56.70 L564.91 55.70 L564.97 54.70 L565.05 53.70 L565.13 52.70 L565.19 51.70 L565.24 50.70 L565.25 49.70 L565.25 41.70 L565.25 33.70 L565.25 25.70Z" fill="#597dbf" stroke="#4e4e4e" stroke-width="1.2" stroke-linejoin="round"/>
<line x1="565.50" y1="54" x2="565.50" y2="181" stroke="#4e4e4e" stroke-width="1.07"/>
<line x1="565.45" y1="98.2" x2="565.45" y2="136.4" stroke="#4e4e4e" stroke-width="3.4"/>
<circle cx="565.45" cy="117.4" r="1.65" fill="#fff"/>
<path d="M613.15 25.70 L613.15 33.70 L613.15 41.70 L613.15 49.70 L613.16 55.70 L613.18 56.70 L613.22 57.70 L613.27 58.70 L613.33 59.70 L613.41 60.70 L613.52 61.70 L613.67 62.70 L613.83 63.70 L614.00 64.70 L614.17 65.70 L614.34 66.70 L614.53 67.70 L614.73 68.70 L614.94 69.70 L615.15 70.70 L615.40 71.70 L615.65 72.70 L615.89 73.70 L616.10 74.70 L616.26 75.70 L616.40 76.70 L616.52 77.70 L616.65 78.70 L616.80 79.70 L616.99 80.70 L617.21 81.70 L617.46 82.70 L617.72 83.70 L617.98 84.70 L618.21 85.70 L618.44 86.70 L618.67 87.70 L618.90 88.70 L619.17 89.70 L619.46 90.70 L619.80 91.70 L620.17 92.70 L620.55 93.70 L620.94 94.70 L621.32 95.70 L621.72 96.70 L622.13 97.70 L622.54 98.70 L622.94 99.70 L623.31 100.70 L623.67 101.70 L624.03 102.70 L624.38 103.70 L624.74 104.70 L625.11 105.70 L625.51 106.70 L625.90 107.70 L626.29 108.70 L626.65 109.70 L626.98 110.70 L627.31 111.70 L627.62 112.70 L627.91 113.70 L628.18 114.70 L628.42 115.70 L628.67 116.70 L628.90 117.70 L629.09 118.70 L629.23 119.70 L629.30 120.70 L629.35 121.70 L629.40 122.70 L629.43 123.70 L629.42 127.70 L629.39 128.70 L629.36 129.70 L629.31 130.70 L629.22 131.70 L629.08 132.70 L628.91 133.70 L628.71 134.70 L628.47 135.70 L628.11 136.70 L627.67 137.70 L627.18 138.70 L626.69 139.70 L626.21 140.70 L625.69 141.70 L625.14 142.70 L624.60 143.70 L624.09 144.70 L623.63 145.70 L623.18 146.70 L622.74 147.70 L622.33 148.70 L621.96 149.70 L621.62 150.70 L621.32 151.70 L621.04 152.70 L620.76 153.70 L620.45 154.70 L620.10 155.70 L619.70 156.70 L619.29 157.70 L618.87 158.70 L618.47 159.70 L618.09 160.70 L617.71 161.70 L617.35 162.70 L616.99 163.70 L616.65 164.70 L616.32 165.70 L616.00 166.70 L615.69 167.70 L615.40 168.70 L615.13 169.70 L614.87 170.70 L614.62 171.70 L614.37 172.70 L614.16 173.70 L613.99 174.70 L613.86 175.70 L613.76 176.70 L613.66 177.70 L613.58 178.70 L613.52 179.70 L613.46 180.70 L613.42 181.70 L613.38 182.70 L613.34 183.70 L613.31 184.70 L613.27 185.70 L613.23 186.70 L613.20 187.70 L613.17 188.70 L613.15 196.70 L613.15 204.70 L613.15 212.70 L613.15 215.10 L612.75 215.10 L612.75 212.70 L612.75 204.70 L612.75 196.70 L612.73 188.70 L612.70 187.70 L612.67 186.70 L612.63 185.70 L612.59 184.70 L612.56 183.70 L612.52 182.70 L612.48 181.70 L612.44 180.70 L612.38 179.70 L612.32 178.70 L612.24 177.70 L612.14 176.70 L612.04 175.70 L611.91 174.70 L611.74 173.70 L611.53 172.70 L611.28 171.70 L611.03 170.70 L610.77 169.70 L610.50 168.70 L610.21 167.70 L609.90 166.70 L609.58 165.70 L609.25 164.70 L608.91 163.70 L608.55 162.70 L608.19 161.70 L607.81 160.70 L607.43 159.70 L607.03 158.70 L606.61 157.70 L606.20 156.70 L605.80 155.70 L605.45 154.70 L605.14 153.70 L604.86 152.70 L604.58 151.70 L604.28 150.70 L603.94 149.70 L603.57 148.70 L603.16 147.70 L602.72 146.70 L602.27 145.70 L601.81 144.70 L601.30 143.70 L600.76 142.70 L600.21 141.70 L599.69 140.70 L599.21 139.70 L598.72 138.70 L598.23 137.70 L597.79 136.70 L597.43 135.70 L597.19 134.70 L596.99 133.70 L596.82 132.70 L596.68 131.70 L596.59 130.70 L596.54 129.70 L596.51 128.70 L596.48 127.70 L596.47 123.70 L596.50 122.70 L596.55 121.70 L596.60 120.70 L596.67 119.70 L596.81 118.70 L597.00 117.70 L597.23 116.70 L597.48 115.70 L597.72 114.70 L597.99 113.70 L598.28 112.70 L598.59 111.70 L598.92 110.70 L599.25 109.70 L599.61 108.70 L600.00 107.70 L600.39 106.70 L600.79 105.70 L601.16 104.70 L601.52 103.70 L601.87 102.70 L602.23 101.70 L602.59 100.70 L602.96 99.70 L603.36 98.70 L603.77 97.70 L604.18 96.70 L604.58 95.70 L604.96 94.70 L605.35 93.70 L605.73 92.70 L606.10 91.70 L606.44 90.70 L606.73 89.70 L607.00 88.70 L607.23 87.70 L607.46 86.70 L607.69 85.70 L607.92 84.70 L608.18 83.70 L608.44 82.70 L608.69 81.70 L608.91 80.70 L609.10 79.70 L609.25 78.70 L609.38 77.70 L609.50 76.70 L609.64 75.70 L609.80 74.70 L610.01 73.70 L610.25 72.70 L610.50 71.70 L610.75 70.70 L610.96 69.70 L611.17 68.70 L611.37 67.70 L611.56 66.70 L611.73 65.70 L611.90 64.70 L612.07 63.70 L612.23 62.70 L612.38 61.70 L612.49 60.70 L612.57 59.70 L612.63 58.70 L612.68 57.70 L612.72 56.70 L612.74 55.70 L612.75 49.70 L612.75 41.70 L612.75 33.70 L612.75 25.70Z" fill="#b4d4df" stroke="#4e4e4e" stroke-width="1.2" stroke-linejoin="round"/>
<line x1="613.00" y1="60" x2="613.00" y2="182" stroke="#4e4e4e" stroke-width="1.07"/>
<line x1="612.95" y1="105.9" x2="612.95" y2="141.4" stroke="#4e4e4e" stroke-width="3.4"/>
<circle cx="612.95" cy="124.0" r="1.65" fill="#fff"/>
<path d="M660.65 25.70 L660.65 33.70 L660.65 41.70 L660.67 49.70 L660.69 50.70 L660.72 51.70 L660.76 52.70 L660.98 53.70 L661.31 54.70 L661.60 55.70 L661.90 56.70 L662.21 57.70 L662.52 58.70 L662.85 59.70 L663.22 60.70 L663.64 61.70 L664.02 62.70 L664.33 63.70 L664.64 64.70 L665.02 65.70 L665.45 66.70 L665.92 67.70 L666.43 68.70 L666.98 69.70 L667.58 70.70 L668.28 71.70 L669.03 72.70 L669.80 73.70 L670.54 74.70 L671.23 75.70 L671.93 76.70 L672.61 77.70 L673.26 78.70 L673.88 79.70 L674.44 80.70 L674.98 81.70 L675.49 82.70 L675.97 83.70 L676.42 84.70 L676.86 85.70 L677.29 86.70 L677.71 87.70 L678.08 88.70 L678.38 89.70 L678.61 90.70 L678.83 91.70 L679.03 92.70 L679.17 93.70 L679.25 94.70 L679.24 95.70 L679.17 96.70 L679.07 97.70 L678.94 98.70 L678.79 99.70 L678.62 100.70 L678.35 101.70 L678.02 102.70 L677.67 103.70 L677.34 104.70 L677.05 105.70 L676.77 106.70 L676.49 107.70 L676.21 108.70 L675.93 109.70 L675.66 110.70 L675.40 111.70 L675.13 112.70 L674.85 113.70 L674.55 114.70 L674.20 115.70 L673.80 116.70 L673.37 117.70 L672.92 118.70 L672.48 119.70 L672.05 120.70 L671.60 121.70 L671.15 122.70 L670.71 123.70 L670.28 124.70 L669.86 125.70 L669.44 126.70 L669.04 127.70 L668.64 128.70 L668.26 129.70 L667.90 130.70 L667.55 131.70 L667.21 132.70 L666.88 133.70 L666.55 134.70 L666.22 135.70 L665.89 136.70 L665.56 137.70 L665.24 138.70 L664.94 139.70 L664.65 140.70 L664.37 141.70 L664.09 142.70 L663.83 143.70 L663.57 144.70 L663.33 145.70 L663.09 146.70 L662.86 147.70 L662.63 148.70 L662.41 149.70 L662.20 150.70 L661.97 151.70 L661.74 152.70 L661.55 153.70 L661.39 154.70 L661.27 155.70 L661.18 156.70 L661.10 157.70 L661.03 158.70 L660.97 159.70 L660.91 160.70 L660.87 161.70 L660.83 162.70 L660.79 163.70 L660.76 164.70 L660.73 165.70 L660.70 166.70 L660.68 167.70 L660.65 169.70 L660.65 177.70 L660.65 185.70 L660.65 193.70 L660.65 201.70 L660.65 209.70 L660.65 215.10 L660.25 215.10 L660.25 209.70 L660.25 201.70 L660.25 193.70 L660.25 185.70 L660.25 177.70 L660.25 169.70 L660.22 167.70 L660.20 166.70 L660.17 165.70 L660.14 164.70 L660.11 163.70 L660.07 162.70 L660.03 161.70 L659.99 160.70 L659.93 159.70 L659.87 158.70 L659.80 157.70 L659.72 156.70 L659.63 155.70 L659.51 154.70 L659.35 153.70 L659.16 152.70 L658.93 151.70 L658.70 150.70 L658.49 149.70 L658.27 148.70 L658.04 147.70 L657.81 146.70 L657.57 145.70 L657.33 144.70 L657.07 143.70 L656.81 142.70 L656.53 141.70 L656.25 140.70 L655.96 139.70 L655.66 138.70 L655.34 137.70 L655.01 136.70 L654.68 135.70 L654.35 134.70 L654.02 133.70 L653.69 132.70 L653.35 131.70 L653.00 130.70 L652.64 129.70 L652.26 128.70 L651.86 127.70 L651.46 126.70 L651.04 125.70 L650.62 124.70 L650.19 123.70 L649.75 122.70 L649.30 121.70 L648.85 120.70 L648.42 119.70 L647.98 118.70 L647.53 117.70 L647.10 116.70 L646.70 115.70 L646.35 114.70 L646.05 113.70 L645.77 112.70 L645.50 111.70 L645.24 110.70 L644.97 109.70 L644.69 108.70 L644.41 107.70 L644.13 106.70 L643.85 105.70 L643.56 104.70 L643.23 103.70 L642.88 102.70 L642.55 101.70 L642.28 100.70 L642.11 99.70 L641.96 98.70 L641.83 97.70 L641.73 96.70 L641.66 95.70 L641.65 94.70 L641.73 93.70 L641.87 92.70 L642.07 91.70 L642.29 90.70 L642.52 89.70 L642.82 88.70 L643.19 87.70 L643.61 86.70 L644.04 85.70 L644.48 84.70 L644.93 83.70 L645.41 82.70 L645.92 81.70 L646.46 80.70 L647.02 79.70 L647.64 78.70 L648.29 77.70 L648.97 76.70 L649.67 75.70 L650.36 74.70 L651.10 73.70 L651.87 72.70 L652.62 71.70 L653.32 70.70 L653.92 69.70 L654.47 68.70 L654.98 67.70 L655.45 66.70 L655.88 65.70 L656.26 64.70 L656.57 63.70 L656.88 62.70 L657.26 61.70 L657.68 60.70 L658.05 59.70 L658.38 58.70 L658.69 57.70 L659.00 56.70 L659.30 55.70 L659.59 54.70 L659.92 53.70 L660.14 52.70 L660.18 51.70 L660.21 50.70 L660.23 49.70 L660.25 41.70 L660.25 33.70 L660.25 25.70Z" fill="#597dbf" stroke="#4e4e4e" stroke-width="1.2" stroke-linejoin="round"/>
<line x1="660.50" y1="53" x2="660.50" y2="161" stroke="#4e4e4e" stroke-width="1.07"/>
<line x1="660.45" y1="84.75" x2="660.45" y2="117.1" stroke="#4e4e4e" stroke-width="3.4"/>
<circle cx="660.45" cy="100.1" r="1.65" fill="#fff"/>
<rect x="399.2" y="16.55" width="285.30" height="207.85" fill="none" stroke="#000" stroke-width="1.1"/>
<line x1="394.60" y1="26.00" x2="399.2" y2="26.00" stroke="#000" stroke-width="1.3"/>
<line x1="394.60" y1="57.47" x2="399.2" y2="57.47" stroke="#000" stroke-width="1.3"/>
<line x1="394.60" y1="88.94" x2="399.2" y2="88.94" stroke="#000" stroke-width="1.3"/>
<line x1="394.60" y1="120.41" x2="399.2" y2="120.41" stroke="#000" stroke-width="1.3"/>
<line x1="394.60" y1="151.88" x2="399.2" y2="151.88" stroke="#000" stroke-width="1.3"/>
<line x1="394.60" y1="183.35" x2="399.2" y2="183.35" stroke="#000" stroke-width="1.3"/>
<line x1="394.60" y1="214.82" x2="399.2" y2="214.82" stroke="#000" stroke-width="1.3"/>
<line x1="422.95" y1="224.4" x2="422.95" y2="229.30" stroke="#000" stroke-width="1.3"/>
<line x1="470.45" y1="224.4" x2="470.45" y2="229.30" stroke="#000" stroke-width="1.3"/>
<line x1="517.95" y1="224.4" x2="517.95" y2="229.30" stroke="#000" stroke-width="1.3"/>
<line x1="565.45" y1="224.4" x2="565.45" y2="229.30" stroke="#000" stroke-width="1.3"/>
<line x1="612.95" y1="224.4" x2="612.95" y2="229.30" stroke="#000" stroke-width="1.3"/>
<line x1="660.45" y1="224.4" x2="660.45" y2="229.30" stroke="#000" stroke-width="1.3"/>
<text x="389.30" y="29.90" text-anchor="end" font-size="9.2" textLength="12.8" lengthAdjust="spacingAndGlyphs" font-family="Liberation Sans, sans-serif">1.5</text>
<text x="389.30" y="61.37" text-anchor="end" font-size="9.2" textLength="12.8" lengthAdjust="spacingAndGlyphs" font-family="Liberation Sans, sans-serif">1.0</text>
<text x="389.30" y="92.84" text-anchor="end" font-size="9.2" textLength="12.8" lengthAdjust="spacingAndGlyphs" font-family="Liberation Sans, sans-serif">0.5</text>
<text x="389.30" y="124.31" text-anchor="end" font-size="9.2" textLength="12.8" lengthAdjust="spacingAndGlyphs" font-family="Liberation Sans, sans-serif">0.0</text>
<text x="389.30" y="155.78" text-anchor="end" font-size="9.2" textLength="18.7" lengthAdjust="spacingAndGlyphs" font-family="Liberation Sans, sans-serif">−0.5</text>
<text x="389.30" y="187.25" text-anchor="end" font-size="9.2" textLength="18.7" lengthAdjust="spacingAndGlyphs" font-family="Liberation Sans, sans-serif">−1.0</text>
<text x="389.30" y="218.72" text-anchor="end" font-size="9.2" textLength="18.7" lengthAdjust="spacingAndGlyphs" font-family="Liberation Sans, sans-serif">−1.5</text>
<text x="68.2" y="241.4" font-size="9.0" font-family="Liberation Sans, sans-serif" font-style="italic">σ<tspan dy="-3.2" font-size="6.0" font-style="normal" stroke-width="0.1">2</tspan><tspan dx="-3.5" dy="5.2" font-size="6.0" stroke-width="0.1">a</tspan></text>
<text transform="translate(120.65 239.9) scale(0.985 1)" font-size="9.0" font-family="Liberation Sans, sans-serif" font-style="italic" stroke-width="0.25">V<tspan dy="2" font-size="6.0" stroke-width="0.05">CT<tspan font-style="normal">1</tspan></tspan></text>
<text transform="translate(177.65 239.9) scale(0.985 1)" font-size="9.0" font-family="Liberation Sans, sans-serif" font-style="italic" stroke-width="0.25">V<tspan dy="2" font-size="6.0" stroke-width="0.05">CT<tspan font-style="normal">2</tspan></tspan></text>
<text transform="translate(234.65 239.9) scale(0.985 1)" font-size="9.0" font-family="Liberation Sans, sans-serif" font-style="italic" stroke-width="0.25">V<tspan dy="2" font-size="6.0" stroke-width="0.05">CT<tspan font-style="normal">3</tspan></tspan></text>
<text transform="translate(291.65 239.9) scale(0.985 1)" font-size="9.0" font-family="Liberation Sans, sans-serif" font-style="italic" stroke-width="0.25">V<tspan dy="2" font-size="6.0" stroke-width="0.05">CT<tspan font-style="normal">4</tspan></tspan></text>
<text transform="translate(404.10 239.9) scale(0.985 1)" font-size="9.0" font-family="Liberation Sans, sans-serif" font-style="italic" stroke-width="0.25">V<tspan dy="2" font-size="6.0" stroke-width="0.05"><tspan font-style="normal">(</tspan>CT<tspan font-style="normal">1,</tspan> CT<tspan font-style="normal">2)</tspan></tspan></text>
<text transform="translate(451.60 239.9) scale(0.985 1)" font-size="9.0" font-family="Liberation Sans, sans-serif" font-style="italic" stroke-width="0.25">V<tspan dy="2" font-size="6.0" stroke-width="0.05"><tspan font-style="normal">(</tspan>CT<tspan font-style="normal">1,</tspan> CT<tspan font-style="normal">3)</tspan></tspan></text>
<text transform="translate(499.10 239.9) scale(0.985 1)" font-size="9.0" font-family="Liberation Sans, sans-serif" font-style="italic" stroke-width="0.25">V<tspan dy="2" font-size="6.0" stroke-width="0.05"><tspan font-style="normal">(</tspan>CT<tspan font-style="normal">1,</tspan> CT<tspan font-style="normal">4)</tspan></tspan></text>
<text transform="translate(546.60 239.9) scale(0.985 1)" font-size="9.0" font-family="Liberation Sans, sans-serif" font-style="italic" stroke-width="0.25">V<tspan dy="2" font-size="6.0" stroke-width="0.05"><tspan font-style="normal">(</tspan>CT<tspan font-style="normal">2,</tspan> CT<tspan font-style="normal">3)</tspan></tspan></text>
<text transform="translate(594.10 239.9) scale(0.985 1)" font-size="9.0" font-family="Liberation Sans, sans-serif" font-style="italic" stroke-width="0.25">V<tspan dy="2" font-size="6.0" stroke-width="0.05"><tspan font-style="normal">(</tspan>CT<tspan font-style="normal">2,</tspan> CT<tspan font-style="normal">4)</tspan></tspan></text>
<text transform="translate(641.60 239.9) scale(0.985 1)" font-size="9.0" font-family="Liberation Sans, sans-serif" font-style="italic" stroke-width="0.25">V<tspan dy="2" font-size="6.0" stroke-width="0.05"><tspan font-style="normal">(</tspan>CT<tspan font-style="normal">3,</tspan> CT<tspan font-style="normal">4)</tspan></tspan></text>
<text x="187.1" y="258.1" text-anchor="middle" font-size="9.9" textLength="47.2" lengthAdjust="spacingAndGlyphs" font-family="Liberation Sans, sans-serif">Cell types</text>
<text x="541.8" y="258.1" text-anchor="middle" font-size="9.9" textLength="84.0" lengthAdjust="spacingAndGlyphs" font-family="Liberation Sans, sans-serif">Pairs of cell types</text>
<text transform="translate(7.2 120.85) rotate(-90)" text-anchor="middle" font-size="9.9" textLength="109.6" lengthAdjust="spacingAndGlyphs" font-family="Liberation Sans, sans-serif">Variance in Free model</text>
<text transform="translate(362.2 120.95) rotate(-90)" text-anchor="middle" font-size="9.9" textLength="116.9" lengthAdjust="spacingAndGlyphs" font-family="Liberation Sans, sans-serif">Correlation in Full model</text>
<text x="36.1" y="6.2" text-anchor="middle" font-size="9.0" textLength="11.3" lengthAdjust="spacingAndGlyphs" font-family="Liberation Sans, sans-serif">(a)</text>
<text x="390.7" y="6.2" text-anchor="middle" font-size="9.0" textLength="11.6" lengthAdjust="spacingAndGlyphs" font-family="Liberation Sans, sans-serif">(b)</text>
</svg>
</body></html>
